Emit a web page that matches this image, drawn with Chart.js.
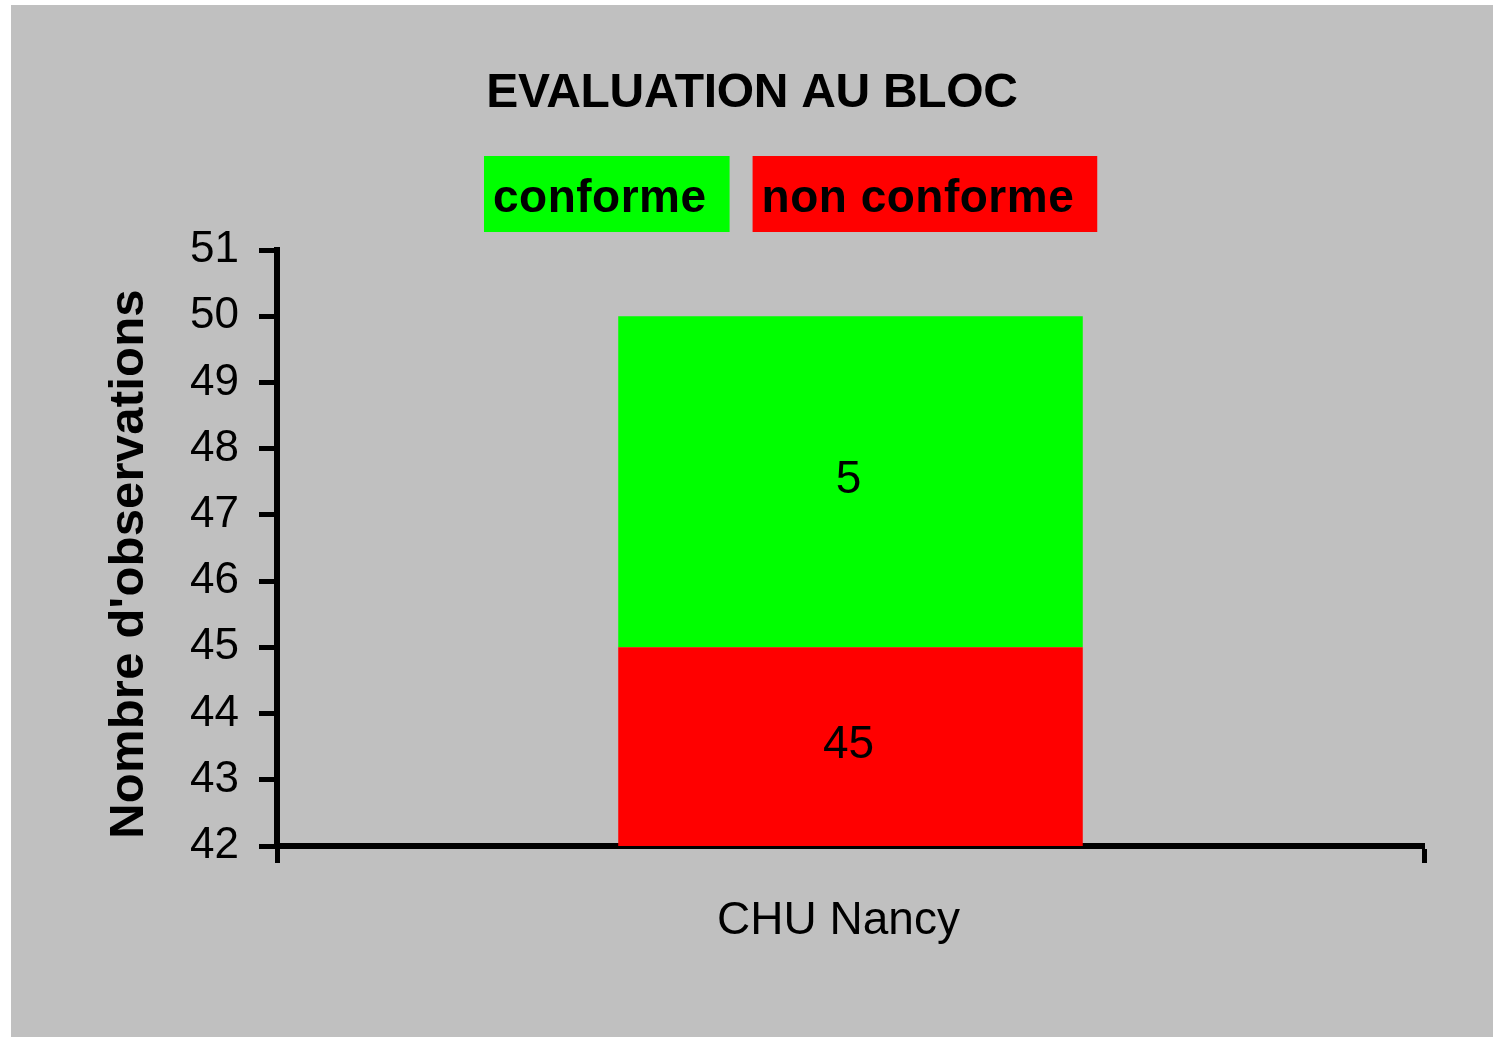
<!DOCTYPE html>
<html>
<head>
<meta charset="utf-8">
<title>Evaluation au bloc</title>
<script src="https://cdn.jsdelivr.net/npm/chart.js@4.4.1/dist/chart.umd.min.js"></script>
<style>
  html, body { margin: 0; padding: 0; background: #fff; }
  canvas { display: block; }
</style>
</head>
<body>
<canvas id="chart" width="1493" height="1037"></canvas>
<script>
// data
const chartTitle = 'EVALUATION AU BLOC';
const categories = ['CHU Nancy'];
const nonConforme = [45];
const conforme = [5];
const yTitle = "Nombre d'observations";
const yMin = 42;
const yMax = 51;

const FONT = '"Liberation Sans", Arial, sans-serif';

// grey panel, title, y title and the boxed legend
const panel = {
  id: 'panel',
  beforeDraw(chart) {
    const ctx = chart.ctx;
    ctx.save();
    ctx.fillStyle = '#c0c0c0';
    ctx.fillRect(11, 5, chart.width - 11, chart.height - 5);
    ctx.restore();
  },
  afterDatasetsDraw(chart) {
    // value labels in the middle of each visible segment
    const ctx = chart.ctx;
    const area = chart.chartArea;
    ctx.save();
    ctx.font = '46px ' + FONT;
    ctx.fillStyle = '#000';
    ctx.textAlign = 'center';
    ctx.textBaseline = 'middle';
    chart.data.datasets.forEach((ds, i) => {
      chart.getDatasetMeta(i).data.forEach((bar, j) => {
        const p = bar.getProps(['x', 'y', 'base'], true);
        const top = Math.max(Math.min(p.y, p.base), area.top);
        const bot = Math.min(Math.max(p.y, p.base), area.bottom);
        ctx.fillText(String(ds.data[j]), p.x - 2, (top + bot) / 2 - 1);
      });
    });
    ctx.restore();
  },
  afterDraw(chart) {
    const ctx = chart.ctx;
    ctx.save();
    // title
    ctx.font = 'bold 48px ' + FONT;
    ctx.letterSpacing = '-0.3px';
    ctx.fillStyle = '#000';
    ctx.textAlign = 'center';
    ctx.textBaseline = 'alphabetic';
    ctx.fillText(chartTitle, 752, 107);

    // y axis title, rotated, a bit below the axis middle like the original
    ctx.save();
    ctx.font = 'bold 49px ' + FONT;
    ctx.letterSpacing = '0.2px';
    ctx.translate(143, 564);
    ctx.rotate(-Math.PI / 2);
    ctx.fillText(yTitle, 0, 0);
    ctx.restore();

    // legend: coloured boxes with the label inside, top series first
    ctx.font = 'bold 46px ' + FONT;
    ctx.letterSpacing = '0.5px';
    ctx.textAlign = 'left';
    let x = 484;
    const items = chart.data.datasets.slice().reverse();
    items.forEach(ds => {
      const w = ctx.measureText(ds.label).width + 32;
      ctx.fillStyle = ds.backgroundColor;
      ctx.fillRect(x, 156, w, 76);
      ctx.fillStyle = '#000';
      ctx.fillText(ds.label, x + 9, 212);
      x += w + 23;
    });
    ctx.restore();
  }
};

new Chart(document.getElementById('chart'), {
  type: 'bar',
  data: {
    labels: categories,
    datasets: [
      {
        label: 'non conforme',
        data: nonConforme,
        backgroundColor: '#ff0000',
        borderWidth: 0,
        categoryPercentage: 1,
        barPercentage: 0.405
      },
      {
        label: 'conforme',
        data: conforme,
        backgroundColor: '#00ff00',
        borderWidth: 0,
        categoryPercentage: 1,
        barPercentage: 0.405
      }
    ]
  },
  options: {
    responsive: false,
    animation: false,
    devicePixelRatio: 1,
    layout: { padding: { top: 250, right: 69, left: 0, bottom: 0 } },
    plugins: {
      legend: { display: false },
      title: { display: false },
      tooltip: { enabled: false }
    },
    scales: {
      x: {
        stacked: true,
        afterFit(scale) { scale.height = 191; },
        border: { display: true, color: '#000', width: 6 },
        grid: {
          offset: true,
          drawOnChartArea: false,
          drawTicks: true,
          tickLength: 17,
          tickWidth: 5,
          tickColor: '#000'
        },
        ticks: {
          color: '#000',
          padding: 31,
          labelOffset: -12,
          font: { family: FONT, size: 46 }
        }
      },
      y: {
        stacked: true,
        min: yMin,
        max: yMax,
        afterFit(scale) { scale.width = 277; },
        border: { display: true, color: '#000', width: 6 },
        grid: {
          drawOnChartArea: false,
          drawTicks: true,
          tickLength: 18,
          tickWidth: 5,
          tickColor: '#000'
        },
        ticks: {
          stepSize: 1,
          color: '#000',
          padding: 20,
          font: { family: FONT, size: 44 }
        }
      }
    }
  },
  plugins: [panel]
});
</script>
</body>
</html>
